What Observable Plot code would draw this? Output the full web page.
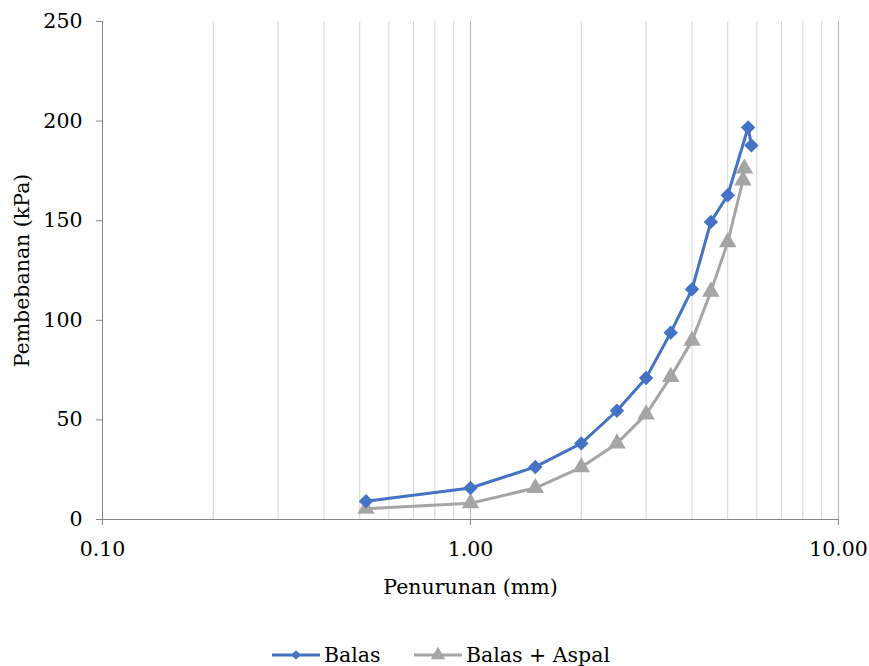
<!DOCTYPE html>
<html>
<head>
<meta charset="utf-8">
<script src="https://cdn.jsdelivr.net/npm/d3@7"></script>
<script src="https://cdn.jsdelivr.net/npm/@observablehq/plot@0.6"></script>
<style>
  html, body { margin: 0; padding: 0; background: #fff; }
  #chart svg { display: block; }
  #legend { position: relative; width: 869px; height: 46px; }
</style>
</head>
<body>
<div id="chart"></div>
<div id="legend"></div>
<script>
// Settlement (mm) against applied load (kPa)
const balasX = [0.52, 1.0, 1.5, 2.0, 2.5, 3.0, 3.5, 4.0, 4.5, 5.0, 5.68, 5.80];
const balasY = [9.2, 15.8, 26.4, 38.2, 54.6, 71.0, 93.8, 115.6, 149.4, 162.8, 196.8, 187.8];
const aspalX = [0.52, 1.0, 1.5, 2.0, 2.5, 3.0, 3.5, 4.0, 4.5, 5.0, 5.50, 5.55];
const aspalY = [5.4, 8.2, 15.8, 26.2, 38.2, 52.8, 71.6, 89.8, 114.4, 139.2, 170.2, 176.2];
const seriesNames = ["Balas", "Balas + Aspal"];
const seriesColors = ["#4472C4", "#A5A5A5"];
const xTicks = [0.1, 1, 10];
const yTicks = [0, 50, 100, 150, 200, 250];
const minorGrid = [0.2, 0.3, 0.4, 0.5, 0.6, 0.7, 0.8, 0.9, 2, 3, 4, 5, 6, 7, 8, 9];
const decadeGrid = [1, 10];

const balas = balasX.map((x, i) => ({x, y: balasY[i]}));
const aspal = aspalX.map((x, i) => ({x, y: aspalY[i]}));

const font = "DejaVu Serif";
const fs = 20.5;

const chart = Plot.plot({
  width: 869,
  height: 620,
  marginLeft: 102,
  marginRight: 31,
  marginTop: 21,
  marginBottom: 101,
  style: {fontFamily: font, fontSize: fs + "px", color: "#000", background: "#fff"},
  x: {type: "log", domain: [0.1, 10]},
  y: {domain: [0, 250]},
  marks: [
    Plot.ruleX(minorGrid, {stroke: "#d4d4d4", strokeWidth: 1}),
    Plot.ruleX(decadeGrid, {stroke: "#b4b4b4", strokeWidth: 1}),
    Plot.ruleY([0], {stroke: "#868686", strokeWidth: 1}),
    Plot.ruleX([0.1], {stroke: "#868686", strokeWidth: 1}),
    Plot.axisX(xTicks, {
      tickFormat: d3.format(".2f"), tickSize: 6, tickPadding: 16,
      stroke: "#868686", fontSize: fs, fontFamily: font, label: "Penurunan (mm)",
      labelAnchor: "center", labelArrow: "none", labelOffset: 74
    }),
    Plot.axisY(yTicks, {
      tickSize: 6, tickPadding: 14, stroke: "#868686", fontSize: fs, fontFamily: font,
      label: "Pembebanan (kPa)", labelAnchor: "center", labelArrow: "none", labelOffset: 88
    }),
    Plot.line(aspal, {x: "x", y: "y", stroke: seriesColors[1], strokeWidth: 3}),
    Plot.dot(aspal, {x: "x", y: "y", symbol: "triangle", fill: seriesColors[1], r: 6.5}),
    Plot.line(balas, {x: "x", y: "y", stroke: seriesColors[0], strokeWidth: 3}),
    Plot.dot(balas, {x: "x", y: "y", symbol: "diamond2", fill: seriesColors[0], r: 6.5})
  ]
});
document.getElementById("chart").append(chart);

// Legend below the plot
const legend = d3.select("#legend").append("svg")
  .attr("width", 869).attr("height", 46);
const items = [
  {name: seriesNames[0], color: seriesColors[0], sym: d3.symbolDiamond2, size: 60, x0: 272},
  {name: seriesNames[1], color: seriesColors[1], sym: d3.symbolTriangle, size: 90, x0: 414}
];
const cy = 35;
items.forEach(it => {
  const g = legend.append("g");
  g.append("line").attr("x1", it.x0).attr("x2", it.x0 + 48).attr("y1", cy).attr("y2", cy)
    .attr("stroke", it.color).attr("stroke-width", 3);
  g.append("path").attr("d", d3.symbol(it.sym, it.size)())
    .attr("transform", `translate(${it.x0 + 24},${cy})`).attr("fill", it.color);
  g.append("text").attr("x", it.x0 + 52).attr("y", cy).attr("dy", "0.35em")
    .attr("font-family", font).attr("font-size", fs).text(it.name);
});
</script>
</body>
</html>
